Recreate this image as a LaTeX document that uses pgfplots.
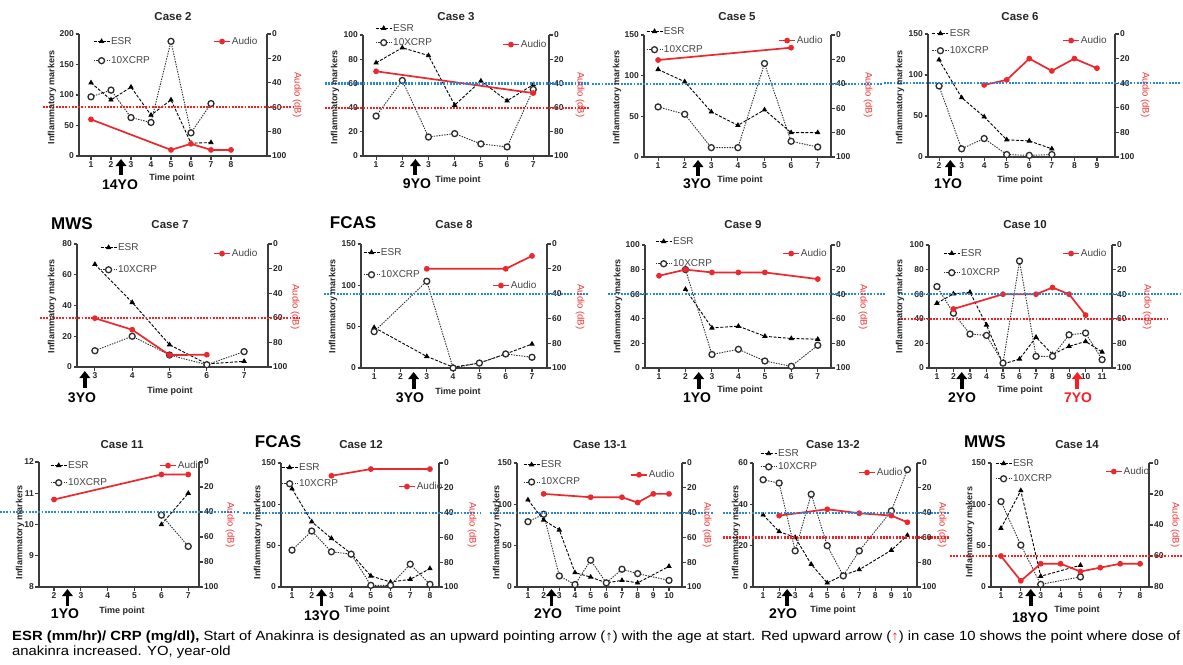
\documentclass[border=0pt]{standalone}
\usepackage{pgfplots}
\pgfplotsset{compat=1.18}
\usepackage{fontspec}
\setmainfont{Liberation Sans}
\usepackage{graphicx}
\usetikzlibrary{arrows.meta}
\definecolor{axc}{RGB}{60,60,60}
\definecolor{tkc}{RGB}{40,40,40}
\definecolor{legc}{RGB}{70,70,70}
\definecolor{crpc}{RGB}{45,45,45}
\definecolor{audred}{RGB}{235,40,45}
\definecolor{refblue}{RGB}{40,135,215}
\definecolor{refred}{RGB}{250,30,35}
\definecolor{labred}{RGB}{240,50,50}
\pgfplotsset{
 pb/.style={scale only axis, clip=false, anchor=south west,
  axis line style={-,line width=1.3pt,draw=axc},
  major tick style={line width=1.1pt,draw=axc}, major tick length=3.5pt, tick align=outside,
  ticklabel style={font=\bfseries\fontsize{8.5}{9}\selectfont, text=tkc, inner sep=1.5pt},
  /pgf/number format/assume math mode=true, minor tick num=0,
  legend cell align=left,
  legend style={draw=none, fill=none, font=\fontsize{10}{10}\selectfont, text=legc, anchor=north west, inner sep=0pt, nodes={inner sep=1pt}},
  legend image code/.code={\draw[mark repeat=2,mark phase=2,##1] plot coordinates {(0pt,0pt) (8pt,0pt) (16pt,0pt)};}},
 infl/.style={pb, axis x line*=bottom, axis y line*=left, ymin=0},
 audax/.style={pb, axis x line=none, axis y line*=right, y dir=reverse, ymin=0, ymax=100, ytick={0,20,...,100}},
 esr/.style={draw=black, line width=0.9pt, dash pattern=on 3pt off 1.6pt, mark=triangle*, mark size=2.3pt, mark options={solid, fill=black}},
 crp/.style={draw=crpc, line width=0.9pt, dash pattern=on 1.4pt off 1.2pt, mark=*, mark size=3pt, mark options={solid, line width=1.3pt, fill=white, draw=crpc}},
 audl/.style={draw=audred, line width=1.7pt, mark=*, mark size=2pt, mark options={solid, fill=audred, draw=audred}},
}
\tikzset{
 upar/.style={draw=black, line width=3.8pt, -{Triangle[width=10.5pt,length=7pt]}},
 uparr/.style={draw=refred, line width=3.8pt, -{Triangle[width=10.5pt,length=7pt]}},
 ttl/.style={font=\bfseries\fontsize{11.5}{12}\selectfont, text=black!85},
 ylab/.style={font=\bfseries\fontsize{9}{9}\selectfont, text=black!85, rotate=90},
 alab/.style={font=\fontsize{9.5}{9.5}\selectfont, text=labred, rotate=-90},
 xlab/.style={font=\bfseries\fontsize{9}{9}\selectfont, text=black!85},
 yo/.style={font=\bfseries\fontsize{14}{14}\selectfont},
 big/.style={font=\bfseries\fontsize{17}{17}\selectfont},
 rb/.style={draw=refblue, line width=2.2pt, dash pattern=on 1.8pt off 1.4pt},
 rr/.style={draw=refred, line width=2.2pt, dash pattern=on 1.8pt off 1.4pt},
}
\begin{document}
\begin{tikzpicture}
\path[use as bounding box, fill=white] (0,0) rectangle (1183pt,-664pt);

% ---------- Case 2
\begin{axis}[infl, at={(79pt,-156pt)}, width=188pt, height=122pt, xmin=0.4, xmax=9.8, ymax=200, xtick={1,...,8}, ytick={0,50,...,200}, legend style={at={(0.074,0.984)}, row sep=8.8pt}]
\addplot[esr] coordinates {(1,120) (2,92) (3,113) (4,67) (5,92) (6,21) (7,22)};
\addplot[crp] coordinates {(1,97) (2,108) (3,63) (4,55) (5,188) (6,38) (7,86)};
\legend{ESR,10XCRP}
\draw[upar] ([yshift=-19pt]axis cs:2.5,0) -- ([yshift=-3pt]axis cs:2.5,0);
\end{axis}
\begin{axis}[audax, at={(79pt,-156pt)}, width=188pt, height=122pt, xmin=0.4, xmax=9.8, legend style={at={(0.713,0.984)}}]
\addplot[audl] coordinates {(1,70) (5,95) (6,90) (7,95) (8,95)};
\legend{Audio}
\end{axis}

% ---------- Case 3
\begin{axis}[infl, at={(363pt,-156pt)}, width=186pt, height=121pt, xmin=0.5, xmax=7.6, ymax=100, xtick={1,...,7}, ytick={0,20,...,100}, legend style={at={(0.065,1.10)}, row sep=3.8pt}]
\addplot[esr] coordinates {(1,77) (2,89.5) (3,83) (4,42) (5,62) (6,45.6) (7,59)};
\addplot[crp] coordinates {(1,33) (2,62.4) (3,15.7) (4,18.5) (5,10) (6,7.5) (7,55)};
\legend{ESR,10XCRP}
\draw[upar] ([yshift=-19pt]axis cs:2.5,0) -- ([yshift=-3pt]axis cs:2.5,0);
\end{axis}
\begin{axis}[audax, at={(363pt,-156pt)}, width=186pt, height=121pt, xmin=0.5, xmax=7.6, legend style={at={(0.747,0.967)}}]
\addplot[audl] coordinates {(1,30) (7,48)};
\legend{Audio}
\end{axis}

% ---------- Case 5
\begin{axis}[infl, at={(644pt,-157pt)}, width=187pt, height=122pt, xmin=0.47, xmax=7.5, ymax=150, xtick={1,...,7}, ytick={0,50,100,150}, legend style={at={(0.01,1.074)}, row sep=7.8pt}]
\addplot[esr] coordinates {(1,107.7) (2,92.5) (3,55.5) (4,39) (5,58) (6,30) (7,30)};
\addplot[crp] coordinates {(1,61.6) (2,52.6) (3,11.5) (4,11.5) (5,115) (6,19.3) (7,12.3)};
\legend{ESR,10XCRP}
\draw[upar] ([yshift=-19pt]axis cs:2.5,0) -- ([yshift=-3pt]axis cs:2.5,0);
\end{axis}
\begin{axis}[audax, at={(644pt,-157pt)}, width=187pt, height=122pt, xmin=0.47, xmax=7.5, legend style={at={(0.717,1.0)}}]
\addplot[audl] coordinates {(1,20.5) (6,10.4)};
\legend{Audio}
\end{axis}

% ---------- Case 6
\begin{axis}[infl, at={(928pt,-157pt)}, width=187pt, height=123pt, xmin=1.51, xmax=9.8, ymax=150, xtick={2,...,9}, ytick={0,50,100,150}, legend style={at={(0.02,1.049)}, row sep=6.8pt}]
\addplot[esr] coordinates {(2,118.5) (3,72.4) (4,49) (5,21) (6,19.6) (7,10)};
\addplot[crp] coordinates {(2,86.6) (3,10) (4,22.5) (5,3) (6,2) (7,3)};
\legend{ESR,10XCRP}
\draw[upar] ([yshift=-19pt]axis cs:2.5,0) -- ([yshift=-3pt]axis cs:2.5,0);
\end{axis}
\begin{axis}[audax, at={(928pt,-157pt)}, width=187pt, height=123pt, xmin=1.51, xmax=9.8, legend style={at={(0.717,0.992)}}]
\addplot[audl] coordinates {(4,41.4) (5,37.3) (6,20) (7,30) (8,20) (9,27.8)};
\legend{Audio}
\end{axis}

% ---------- Case 7
\begin{axis}[infl, at={(77pt,-367pt)}, width=191pt, height=123pt, xmin=2.52, xmax=7.64, ymax=80, xtick={3,...,7}, ytick={0,20,...,80}, legend style={at={(0.12,1.016)}, row sep=11.8pt}]
\addplot[esr] coordinates {(3,66.8) (4,42) (5,14.5) (6,2) (7,3.7)};
\addplot[crp] coordinates {(3,10.6) (4,20) (5,7.8) (6,1.5) (7,10)};
\legend{ESR,10XCRP}
\draw[upar] ([yshift=-21pt]axis cs:2.73,0) -- ([yshift=-4pt]axis cs:2.73,0);
\end{axis}
\begin{axis}[audax, at={(77pt,-367pt)}, width=191pt, height=123pt, xmin=2.52, xmax=7.64, legend style={at={(0.712,0.967)}}]
\addplot[audl] coordinates {(3,60.3) (4,69.7) (5,90.3) (6,90)};
\legend{Audio}
\end{axis}

% ---------- Case 8
\begin{axis}[infl, at={(361pt,-368pt)}, width=186pt, height=124pt, xmin=0.5, xmax=7.57, ymax=150, xtick={1,...,7}, ytick={0,50,100,150}, legend style={at={(0.01,0.976)}, row sep=11.8pt}]
\addplot[esr] coordinates {(1,49) (3,14) (4,1) (5,6) (6,17) (7,29)};
\addplot[crp] coordinates {(1,44) (3,105) (4,0) (5,6) (6,17) (7,13)};
\legend{ESR,10XCRP}
\draw[upar] ([yshift=-21pt]axis cs:2.5,0) -- ([yshift=-4pt]axis cs:2.5,0);
\end{axis}
\begin{axis}[audax, at={(361pt,-368pt)}, width=186pt, height=124pt, xmin=0.5, xmax=7.57, legend style={at={(0.704,0.71)}}]
\addplot[audl] coordinates {(3,20) (6,20) (7,9.6)};
\legend{Audio}
\end{axis}

% ---------- Case 9
\begin{axis}[infl, at={(645pt,-368pt)}, width=186pt, height=123pt, xmin=0.47, xmax=7.5, ymax=100, xtick={1,...,7}, ytick={0,20,...,100}, legend style={at={(0.054,1.073)}, row sep=11.8pt}]
\addplot[esr] coordinates {(2,64) (3,32.6) (4,34) (5,25.8) (6,24) (7,23.4)};
\addplot[crp] coordinates {(2,80) (3,11) (4,15.2) (5,5.7) (6,1.4) (7,18.5)};
\legend{ESR,10XCRP}
\draw[upar] ([yshift=-21pt]axis cs:2.5,0) -- ([yshift=-4pt]axis cs:2.5,0);
\end{axis}
\begin{axis}[audax, at={(645pt,-368pt)}, width=186pt, height=123pt, xmin=0.47, xmax=7.5, legend style={at={(0.737,0.976)}}]
\addplot[audl] coordinates {(1,25) (2,20) (3,22.3) (4,22.3) (5,22.3) (7,27.7)};
\legend{Audio}
\end{axis}

% ---------- Case 10
\begin{axis}[infl, at={(929pt,-368pt)}, width=183pt, height=123pt, xmin=0.52, xmax=11.6, ymax=100, xtick={1,...,11}, ytick={0,20,...,100}, legend style={at={(0.077,0.976)}, row sep=8.8pt}]
\addplot[esr] coordinates {(1,52.7) (2,60.3) (3,61.6) (4,35) (5,3.2) (6,7.3) (7,25) (8,11) (9,17.6) (10,21.6) (11,13)};
\addplot[crp] coordinates {(1,66.2) (2,44.6) (3,27.6) (4,26.5) (5,4) (6,87) (7,9.5) (8,9.5) (9,27) (10,28.4) (11,6.8)};
\legend{ESR,10XCRP}
\draw[upar] ([yshift=-21pt]axis cs:2.5,0) -- ([yshift=-4pt]axis cs:2.5,0);
\draw[uparr] ([yshift=-21pt]axis cs:9.5,0) -- ([yshift=-4pt]axis cs:9.5,0);
\end{axis}
\begin{axis}[audax, at={(929pt,-368pt)}, width=183pt, height=123pt, xmin=0.52, xmax=11.6, legend style={at={(0.727,0.976)}}]
\addplot[audl] coordinates {(2,52) (5,40) (7,40) (8,34.6) (9,40) (10,57)};
\legend{Audio}
\end{axis}

% ---------- Case 11
\begin{axis}[infl, at={(39pt,-587pt)}, width=160pt, height=125pt, xmin=1.44, xmax=7.4, ymin=8, ymax=12, xtick={2,...,7}, ytick={8,9,10,11,12}, legend style={at={(0.069,1.016)}, row sep=6.8pt}]
\addplot[esr] coordinates {(6,10) (7,11)};
\addplot[crp] coordinates {(6,10.3) (7,9.3)};
\legend{ESR,10XCRP}
\draw[upar] ([yshift=-19pt]axis cs:2.5,8) -- ([yshift=-2pt]axis cs:2.5,8);
\end{axis}
\begin{axis}[audax, at={(39pt,-587pt)}, width=160pt, height=125pt, xmin=1.44, xmax=7.4, legend style={at={(0.75,1.016)}}]
\addplot[audl] coordinates {(2,30) (6,10) (7,10)};
\legend{Audio}
\end{axis}

% ---------- Case 12
\begin{axis}[infl, at={(281pt,-587pt)}, width=158pt, height=124pt, xmin=0.44, xmax=8.46, ymax=150, xtick={1,...,8}, ytick={0,50,100,150}, legend style={at={(0.0,1.008)}, row sep=5.8pt}]
\addplot[esr] coordinates {(1,118.8) (2,79) (3,58.8) (4,40.5) (5,13.4) (6,6) (7,9.3) (8,22.3)};
\addplot[crp] coordinates {(1,44.6) (2,67.7) (3,42.6) (4,39.7) (5,2) (6,2) (7,27.6) (8,3.2)};
\legend{ESR,10XCRP}
\draw[upar] ([yshift=-19pt]axis cs:2.5,0) -- ([yshift=-2pt]axis cs:2.5,0);
\end{axis}
\begin{axis}[audax, at={(281pt,-587pt)}, width=158pt, height=124pt, xmin=0.44, xmax=8.46, legend style={at={(0.74,0.855)}}]
\addplot[audl] coordinates {(3,10.3) (5,4.9) (8,4.9)};
\legend{Audio}
\end{axis}

% ---------- Case 13-1
\begin{axis}[infl, at={(517pt,-587pt)}, width=165pt, height=124pt, xmin=0.3, xmax=10.83, ymax=150, xtick={1,...,10}, ytick={0,50,100,150}, legend style={at={(0.036,1.03)}, row sep=6.8pt}]
\addplot[esr] coordinates {(1,105.4) (2,81) (3,69) (4,17.4) (5,12) (6,5) (7,8) (8,5) (10,25)};
\addplot[crp] coordinates {(1,79) (2,88) (3,13.4) (4,3) (5,32.4) (6,5) (7,21.5) (8,16.2) (10,8)};
\legend{ESR,10XCRP}
\draw[upar] ([yshift=-19pt]axis cs:2.5,0) -- ([yshift=-2pt]axis cs:2.5,0);
\end{axis}
\begin{axis}[audax, at={(517pt,-587pt)}, width=165pt, height=124pt, xmin=0.3, xmax=10.83, legend style={at={(0.685,0.95)}}]
\addplot[audl] coordinates {(2,24.9) (5,27.6) (7,27.6) (8,31.9) (9,24.9) (10,24.9)};
\legend{Audio}
\end{axis}

% ---------- Case 13-2
\begin{axis}[infl, at={(753pt,-587pt)}, width=164pt, height=124pt, xmin=0.37, xmax=10.6, ymax=60, xtick={1,...,10}, ytick={0,20,40,60}, legend style={at={(0.043,1.12)}, row sep=2.8pt}]
\addplot[esr] coordinates {(1,34.9) (2,26.8) (3,24) (4,11) (5,2) (6,5.7) (7,8.4) (9,17.8) (10,25)};
\addplot[crp] coordinates {(1,51.9) (2,50.3) (3,17.5) (4,44.9) (5,20) (6,5.4) (7,17.5) (9,36.8) (10,56.8)};
\legend{ESR,10XCRP}
\draw[upar] ([yshift=-19pt]axis cs:2.5,0) -- ([yshift=-2pt]axis cs:2.5,0);
\end{axis}
\begin{axis}[audax, at={(753pt,-587pt)}, width=164pt, height=124pt, xmin=0.37, xmax=10.6, legend style={at={(0.64,0.968)}}]
\addplot[audl] coordinates {(2,42.4) (5,37.3) (7,40.5) (9,42.4) (10,47.8)};
\legend{Audio}
\end{axis}

% ---------- Case 14
\begin{axis}[infl, at={(991pt,-587pt)}, width=158pt, height=124pt, xmin=0.5, xmax=8.45, ymax=150, xtick={1,...,8}, ytick={0,50,100,150}, legend style={at={(0.025,1.04)}, row sep=4.8pt}]
\addplot[esr] coordinates {(1,71) (2,116.7) (3,13) (5,26.3)};
\addplot[crp] coordinates {(1,103.4) (2,50.7) (3,3.2) (5,12.2)};
\legend{ESR,10XCRP}
\draw[upar] ([yshift=-19pt]axis cs:2.5,0) -- ([yshift=-2pt]axis cs:2.5,0);
\end{axis}
\begin{axis}[audax, at={(991pt,-587pt)}, width=158pt, height=124pt, xmin=0.5, xmax=8.45, ymax=80, ytick={0,20,...,80}, legend style={at={(0.72,0.976)}}]
\addplot[audl] coordinates {(1,60) (2,76) (3,65) (4,65) (5,70) (6,67.5) (7,65) (8,65)};
\legend{Audio}
\end{axis}

\begin{scope}[x=1pt,y=-1pt]
% reference lines
\draw[rr] (43,107.2) -- (295,107.2);
\draw[rb] (325,83.4) -- (590,83.4);
\draw[rr] (325,107.6) -- (590,107.6);
\draw[rb] (592,83.8) -- (882,83.8);
\draw[rb] (884,83.2) -- (1181,83.2);
\draw[rr] (40,317.8) -- (300,317.8);
\draw[rb] (324,293.6) -- (588,293.6);
\draw[rb] (608,294.2) -- (885,294.2);
\draw[rb] (898,294.2) -- (1182,294.2);
\draw[rr] (898,318.8) -- (1167,318.8);
\draw[rb] (0,512) -- (240,512);
\draw[rb] (243,512.6) -- (480,512.6);
\draw[rb] (490,512.6) -- (713,512.6);
\draw[rb] (723,512.6) -- (950,512.6);
\draw[rr] (723,537.4) -- (950,537.4);
\draw[rr] (950,556) -- (1183,556);
% titles
\node[ttl] at (173,17) {Case 2};
\node[ttl] at (456,17) {Case 3};
\node[ttl] at (737,17) {Case 5};
\node[ttl] at (1020,17) {Case 6};
\node[ttl] at (170,225) {Case 7};
\node[ttl] at (454,225) {Case 8};
\node[ttl] at (743,225) {Case 9};
\node[ttl] at (1025,225) {Case 10};
\node[ttl] at (122,445) {Case 11};
\node[ttl] at (361,445) {Case 12};
\node[ttl] at (600,445) {Case 13-1};
\node[ttl] at (833,445) {Case 13-2};
\node[ttl] at (1077,445) {Case 14};
\node[big] at (72,224) {MWS};
\node[big] at (353,223) {FCAS};
\node[big] at (278,442) {FCAS};
\node[big] at (985,442) {MWS};
% left labels
\foreach \x in {52,335,617,900} {\node[ylab] at (\x,97) {Inflammatory markers};}
\foreach \x in {52,333,618,900} {\node[ylab] at (\x,306) {Inflammatory markers};}
\foreach \x in {20,258,497,736} {\node[ylab] at (\x,532) {Inflammatory markers};}
\node[ylab] at (970,532) {Inflammatory makers};
% right labels
\foreach \x in {297,580,868,1145} {\node[alab] at (\x,95) {Audio (dB)};}
\foreach \x in {295,580,863,1147} {\node[alab] at (\x,307) {Audio (dB)};}
\foreach \x in {230,472,707,942,1175} {\node[alab] at (\x,525) {Audio (dB)};}
% x labels
\node[xlab] at (172,178) {Time point};
\node[xlab] at (458,180) {Time point};
\node[xlab] at (740,180) {Time point};
\node[xlab] at (1020,180) {Time point};
\node[xlab] at (170,391) {Time point};
\node[xlab] at (458,392) {Time point};
\node[xlab] at (740,390) {Time point};
\node[xlab] at (1020,390) {Time point};
\node[xlab] at (122,611) {Time point};
\node[xlab] at (367,610) {Time point};
\node[xlab] at (598,610) {Time point};
\node[xlab] at (833,610) {Time point};
\node[xlab] at (1077,610) {Time point};
% age labels
\node[yo] at (120,185) {14YO};
\node[yo] at (417,184) {9YO};
\node[yo] at (697,184) {3YO};
\node[yo] at (948,184) {1YO};
\node[yo] at (82,398) {3YO};
\node[yo] at (410,398) {3YO};
\node[yo] at (697,398) {1YO};
\node[yo] at (962,398) {2YO};
\node[yo, text=refred] at (1078,398) {7YO};
\node[yo] at (65,614) {1YO};
\node[yo] at (322,616) {13YO};
\node[yo] at (548,614) {2YO};
\node[yo] at (783,614) {2YO};
\node[yo] at (1030,618) {18YO};
% caption
\node[anchor=north west, inner sep=0pt] at (12,629) {\resizebox*{1168pt}{31pt}{\fontsize{12}{14}\selectfont\begin{tabular}{@{}l@{}}\textbf{ESR (mm/hr)/ CRP (mg/dl),} Start of Anakinra is designated as an upward pointing arrow (↑) with the age at start. Red upward arrow ({\color{refred}↑}) in case 10 shows the point where dose of\\ anakinra increased. YO, year-old\end{tabular}}};
\end{scope}
\end{tikzpicture}
\end{document}
